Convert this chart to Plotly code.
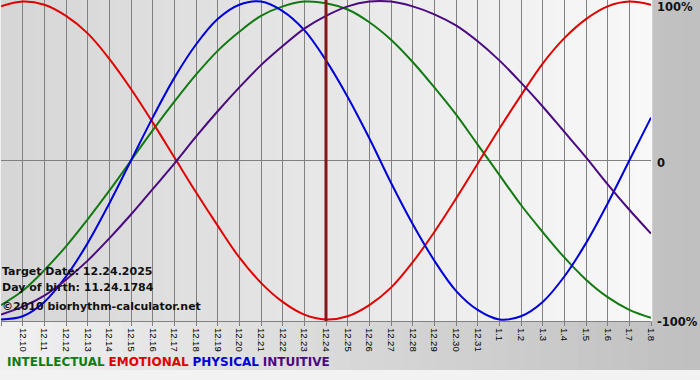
import plotly.graph_objects as go

# ---- data ----
days = ["12.9", "12.10", "12.11", "12.12", "12.13", "12.14", "12.15", "12.16", "12.17",
        "12.18", "12.19", "12.20", "12.21", "12.22", "12.23", "12.24", "12.25", "12.26",
        "12.27", "12.28", "12.29", "12.30", "12.31", "1.1", "1.2", "1.3", "1.4", "1.5",
        "1.6", "1.7", "1.8"]
intellectual = [-91, -82, -69, -54, -37, -19, 0, 19, 37, 54, 69, 81, 91, 97, 100, 99,
                95, 87, 76, 62, 46, 29, 10, -9, -28, -45, -61, -75, -86, -94, -99]
emotional = [97, 100, 98, 91, 80, 64, 45, 24, 2, -20, -41, -61, -77, -89, -97, -100,
             -98, -91, -80, -64, -45, -24, -2, 20, 41, 61, 77, 89, 97, 100, 98]
physical = [-100, -98, -89, -73, -52, -27, 0, 27, 52, 73, 89, 98, 100, 94, 82, 63,
            40, 14, -14, -40, -63, -82, -94, -100, -98, -89, -73, -52, -27, 0, 27]
intuitive = [-97, -92, -85, -75, -63, -49, -34, -18, -2, 15, 31, 46, 60, 72, 83, 91,
             97, 100, 100, 97, 92, 85, 75, 63, 49, 34, 18, 2, -15, -31, -46]
target_date = "12.24"
info_lines = ["Target Date: 12.24.2025", "Day of birth: 11.24.1784",
              "\u00a92010 biorhythm-calculator.net"]
y_labels = ["100%", "0", "-100%"]
y_label_vals = [100, 0, -100]

# ---- style ----
W, H = 700, 380
ML, MR, MT, MB = 1, 49, 0, 59
PW, PH = W - ML - MR, H - MT - MB
colors = {"INTELLECTUAL": "#137a13", "EMOTIONAL": "#e00000",
          "PHYSICAL": "#0000d8", "INTUITIVE": "#4b0a80"}
BOLD = "DejaVu Sans"

def px_to_paper_x(px):
    return (px - ML) / PW

def px_to_paper_y(py):
    return (H - MB - py) / PH

def mix(c1, c2, t):
    return "rgb(%d,%d,%d)" % tuple(round(a + (b - a) * t) for a, b in zip(c1, c2))

shapes = []
# paper background gradient (light left -> darker right)
N = 40
for i in range(N):
    x0 = i * W / N
    x1 = (i + 1) * W / N + 1
    shapes.append(dict(type="rect", xref="paper", yref="paper", layer="below",
                       x0=px_to_paper_x(x0), x1=px_to_paper_x(x1),
                       y0=px_to_paper_y(370), y1=px_to_paper_y(0),
                       line=dict(width=0),
                       fillcolor=mix((240, 240, 240), (192, 192, 192), i / (N - 1))))
shapes.append(dict(type="rect", xref="paper", yref="paper", layer="below",
                   x0=px_to_paper_x(0), x1=px_to_paper_x(W),
                   y0=px_to_paper_y(H), y1=px_to_paper_y(370),
                   line=dict(width=0), fillcolor="#f2f2f2"))
# plot-area gradient (darker left -> light right)
for i in range(N):
    shapes.append(dict(type="rect", xref="paper", yref="paper", layer="below",
                       x0=i / N, x1=(i + 1) / N + 0.002, y0=0, y1=1,
                       line=dict(width=0),
                       fillcolor=mix((214, 214, 214), (248, 248, 248), i / (N - 1))))

xs = list(range(len(days)))
t_idx = days.index(target_date)

fig = go.Figure()
for name, vals in [("INTELLECTUAL", intellectual), ("EMOTIONAL", emotional),
                   ("PHYSICAL", physical), ("INTUITIVE", intuitive)]:
    fig.add_trace(go.Scatter(x=xs, y=vals, mode="lines", name=name,
                             line=dict(color=colors[name], width=2, shape="spline",
                                       smoothing=1.0),
                             hoverinfo="skip"))

# target date marker line
shapes.append(dict(type="line", xref="x", yref="paper", x0=t_idx, x1=t_idx,
                   y0=0, y1=1, layer="above",
                   line=dict(color="#861616", width=3)))

annotations = []
for lab, v, ys in zip(y_labels, y_label_vals, [-5, -2, -3]):
    annotations.append(dict(text="<b>%s</b>" % lab, xref="paper", yref="y",
                            x=px_to_paper_x(655), y=v, yshift=ys, xanchor="left",
                            yanchor="middle", showarrow=False,
                            font=dict(family=BOLD, size=11.5, color="#111111")))
for line, ypx in zip(info_lines, [271.5, 287.5, 306.5]):
    annotations.append(dict(text="<b>%s</b>" % line, xref="paper", yref="paper",
                            x=px_to_paper_x(0), y=px_to_paper_y(ypx), xanchor="left",
                            yanchor="middle", showarrow=False,
                            font=dict(family=BOLD, size=11, color="#111111")))
legend_html = " ".join('<span style="color:%s"><b>%s</b></span>' % (c, n)
                       for n, c in colors.items())
annotations.append(dict(text=legend_html, xref="paper", yref="paper",
                        x=px_to_paper_x(5), y=px_to_paper_y(362), xanchor="left",
                        yanchor="middle", showarrow=False,
                        font=dict(family=BOLD, size=12)))

fig.update_layout(
    width=W, height=H, margin=dict(l=ML, r=MR, t=MT, b=MB, pad=0),
    paper_bgcolor="rgba(0,0,0,0)", plot_bgcolor="rgba(0,0,0,0)",
    showlegend=False, shapes=shapes, annotations=annotations,
    xaxis=dict(range=[0, len(days) - 1], tickmode="array", tickvals=xs, ticktext=days,
               tickangle=90, ticks="outside", ticklen=4, tickcolor="#808080",
               showgrid=True, gridcolor="#808080", gridwidth=1,
               showline=True, linecolor="#808080", linewidth=1, zeroline=False,
               tickfont=dict(family="Liberation Sans", size=9.5, color="#000000"),
               fixedrange=True),
    yaxis=dict(range=[-101, 101], showticklabels=False, showgrid=False,
               zeroline=True, zerolinecolor="#808080", zerolinewidth=1,
               fixedrange=True),
)

fig.write_html("out.html", config={"displayModeBar": False},
               post_script="document.body.style.margin='0';document.body.style.overflow='hidden';")
